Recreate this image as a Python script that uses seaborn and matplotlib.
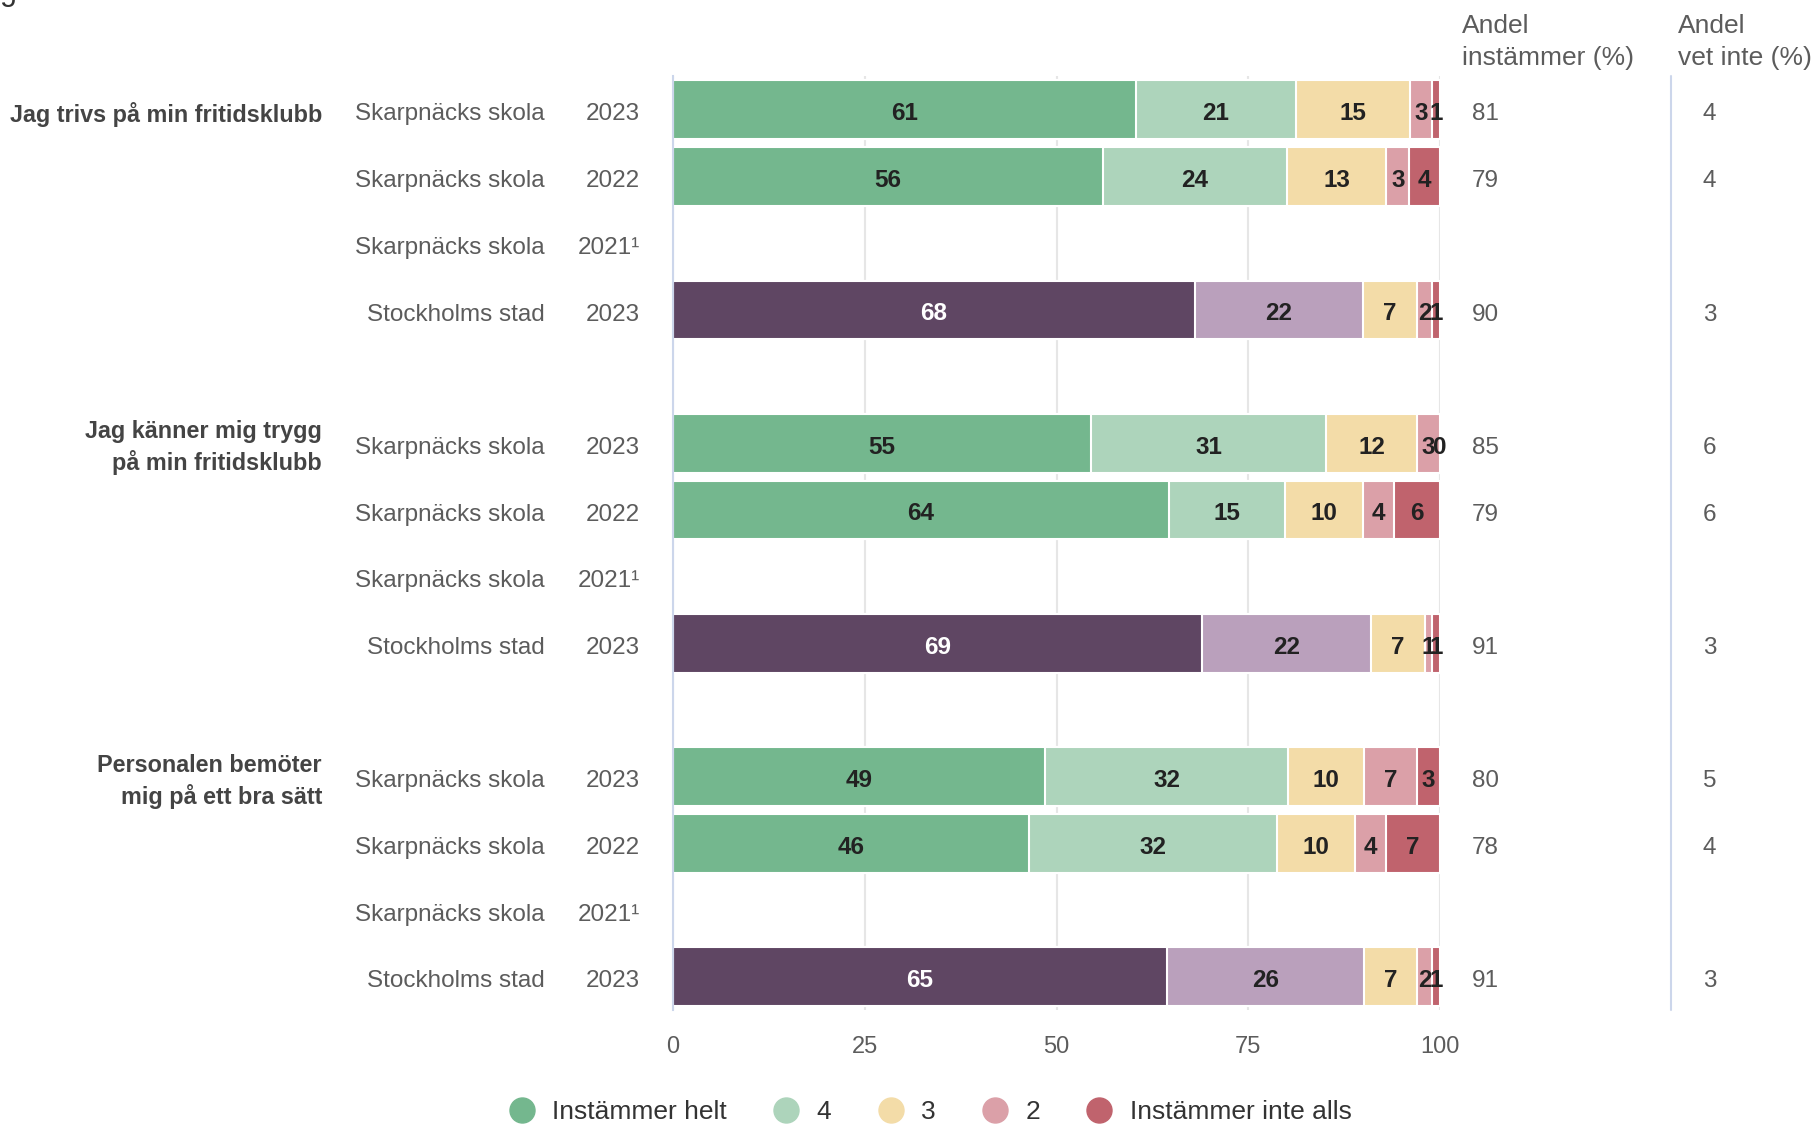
import matplotlib.pyplot as plt
import numpy as np
import pandas as pd
import seaborn as sns
from matplotlib.lines import Line2D
from matplotlib.transforms import blended_transform_factory

# % Data
questions = [
    "Jag trivs på min fritidsklubb",
    "Jag känner mig trygg\npå min fritidsklubb",
    "Personalen bemöter\nmig på ett bra sätt",
]
units = ["Skarpnäcks skola", "Skarpnäcks skola", "Skarpnäcks skola", "Stockholms stad"]
years = ["2023", "2022", "2021¹", "2023"]
levels = ["Instämmer helt", "4", "3", "2", "Instämmer inte alls"]

helt = [61, 56, None, 68, 55, 64, None, 69, 49, 46, None, 65]
fyra = [21, 24, None, 22, 31, 15, None, 22, 32, 32, None, 26]
tre = [15, 13, None, 7, 12, 10, None, 7, 10, 10, None, 7]
tva = [3, 3, None, 2, 3, 4, None, 1, 7, 4, None, 2]
inte_alls = [1, 4, None, 1, 0, 6, None, 1, 3, 7, None, 1]
andel_instammer = [81, 79, None, 90, 85, 79, None, 91, 80, 78, None, 91]
andel_vet_inte = [4, 4, None, 3, 6, 6, None, 3, 5, 4, None, 3]

# % Colours
skola_colors = ["#74b78e", "#add4bb", "#f3dca8", "#dba0a8", "#c0636d"]
stad_colors = ["#5f4663", "#baa0bc", "#f3dca8", "#dba0a8", "#c0636d"]
axis_blue = "#ccd6eb"
grey_text = "#5c5c5c"

# % Build table
rows = []
for i in range(len(helt)):
    g, r = divmod(i, 4)
    rows.append(
        {
            "slot": g * 5 + r,
            "unit": units[r],
            "year": years[r],
            "kind": "stad" if units[r].startswith("Stockholm") else "skola",
            "vals": [helt[i], fyra[i], tre[i], tva[i], inte_alls[i]],
            "instammer": andel_instammer[i],
            "vet_inte": andel_vet_inte[i],
        }
    )
df = pd.DataFrame(rows)
bars = df[df["vals"].apply(lambda v: v[0] is not None)].copy()
shares = np.array(bars["vals"].tolist(), dtype=float)
shares = shares / shares.sum(axis=1, keepdims=True) * 100
cum = shares.cumsum(axis=1)
for k in range(5):
    bars[f"cum{k}"] = cum[:, k]

# % Plot
sns.set_theme(style="white")
plt.rcParams["font.family"] = ["Liberation Sans", "DejaVu Sans"]

fig = plt.figure(figsize=(18.16, 11.26), dpi=100)
ax = fig.add_axes([0.3706, 0.1030, 0.4224, 0.8291])

for k in reversed(range(5)):
    sns.barplot(
        data=bars,
        x=f"cum{k}",
        y="slot",
        hue="kind",
        palette={"skola": skola_colors[k], "stad": stad_colors[k]},
        orient="h",
        native_scale=True,
        width=0.88,
        dodge=False,
        legend=False,
        saturation=1,
        edgecolor="white",
        linewidth=1.5,
        ax=ax,
    )

# segment labels
for (_, row), sh, cu in zip(bars.iterrows(), shares, cum):
    for k in range(5):
        center = cu[k] - sh[k] / 2
        color = "white" if (row["kind"] == "stad" and k == 0) else "#222222"
        ax.text(
            center, row["slot"] + 0.06, str(row["vals"][k]),
            ha="center", va="center", fontsize=17.5, fontweight="bold", color=color,
        )

ax.set_xlim(0, 100)
ax.set_ylim(13.5, -0.5)
ax.set_xlabel("")
ax.set_ylabel("")
ax.set_xticks([0, 25, 50, 75, 100])
ax.set_yticks(np.arange(-0.5, 14, 1))
ax.set_yticklabels([])
ax.tick_params(axis="x", length=0, pad=19, labelsize=17, labelcolor=grey_text)
ax.tick_params(axis="y", length=15, width=1.5, color=axis_blue, direction="out")
ax.xaxis.grid(True, color="#e6e6e6", linewidth=1.5)
ax.set_axisbelow(True)
for s in ["top", "right", "bottom"]:
    ax.spines[s].set_visible(False)
ax.spines["left"].set_color(axis_blue)
ax.spines["left"].set_linewidth(1.5)

trans = blended_transform_factory(ax.transAxes, ax.transData)

# category labels
for _, row in df.iterrows():
    y = row["slot"] + 0.07
    ax.text(-0.1669, y, row["unit"], transform=trans, ha="right", va="center",
            fontsize=17.5, color=grey_text)
    ax.text(-0.0430, y, row["year"], transform=trans, ha="right", va="center",
            fontsize=17.5, color=grey_text)
    if row["instammer"] is not None and not pd.isna(row["instammer"]):
        ax.text(1.0417, y, str(int(row["instammer"])), transform=trans,
                ha="left", va="center", fontsize=17.5, color=grey_text)
        ax.text(1.3425, y, str(int(row["vet_inte"])), transform=trans,
                ha="left", va="center", fontsize=17.5, color=grey_text)

for g, q in enumerate(questions):
    ax.text(-0.4576, g * 5 + 0.07, q, transform=trans, ha="right", va="center",
            fontsize=16.8, fontweight="bold", color="#444444", linespacing=1.35)

# right column headers and separator
htrans = blended_transform_factory(ax.transAxes, fig.transFigure)
ax.text(1.0287, 0.9625, "Andel\ninstämmer (%)", transform=htrans, ha="left",
        va="center", fontsize=19, color=grey_text, linespacing=1.45)
ax.text(1.3103, 0.9625, "Andel\nvet inte (%)", transform=htrans, ha="left",
        va="center", fontsize=19, color=grey_text, linespacing=1.45)
ax.add_line(Line2D([1.301, 1.301], [0, 1], transform=ax.transAxes, color=axis_blue,
                   linewidth=1.5, clip_on=False))

# cut off title fragment at the very top
fig.text(0.0, 1.0, "g", fontsize=22, va="baseline", color="#333333")

# legend
handles = [
    Line2D([], [], marker="o", linestyle="", markersize=18,
           markerfacecolor=c, markeredgecolor=c)
    for c in skola_colors
]
fig.legend(
    handles, levels, loc="center", bbox_to_anchor=(0.5085, 0.012), ncol=5,
    frameon=False, fontsize=19, handletextpad=0.15, columnspacing=1.25,
    labelcolor="#333333",
)

fig.savefig("out.png", dpi=100)
